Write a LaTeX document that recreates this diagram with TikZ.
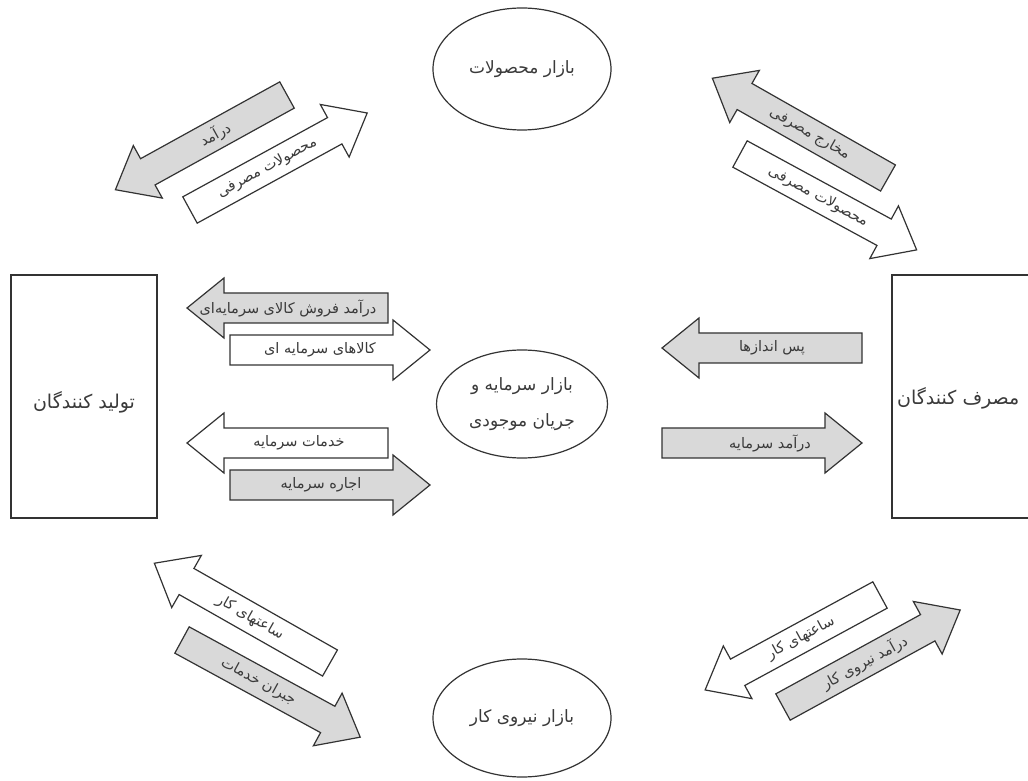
\documentclass[tikz,border=0pt]{standalone}
\usepackage{fontspec}
\usetikzlibrary{shapes.geometric}
\newfontfamily\fa[Script=Arabic]{DejaVu Sans}
\TeXXeTstate=1
\definecolor{lineC}{HTML}{333333}
\definecolor{textC}{HTML}{3A3A3A}
\definecolor{fillG}{HTML}{D9D9D9}
\tikzset{
  shapeline/.style={draw=lineC, line width=1.2pt, line join=miter},
  arrowlabel/.style={text=textC, inner sep=0pt, font=\fa\fontsize{14.5}{16}\selectfont},
  market/.style={shapeline, ellipse, inner sep=0pt, text=textC, align=center, font=\fa\fontsize{17}{36}\selectfont},
  boxlabel/.style={text=textC, inner sep=0pt, font=\fa\fontsize{19}{22}\selectfont}
}
% #1 name, #2 tail, #3 angle, #4 length, #5 fill, #6 text angle, #7 label pos, #8 text
\newcommand{\BArrow}[8]{%
  \begin{scope}[shift={#2}, rotate=#3]
    \draw[shapeline, fill=#5] (0,-15) -- ({#4-37},-15) -- ({#4-37},-30) -- (#4,0)
      -- ({#4-37},30) -- ({#4-37},15) -- (0,15) -- cycle;
    \node[arrowlabel, rotate=#6] (#1) at (#7,0) {#8};
  \end{scope}}
\begin{document}
\begin{tikzpicture}[x=1pt,y=1pt]
\useasboundingbox (0,0) rectangle (1028,780);
\fill[white] (0,0) rectangle (1028,780);
% boxes
\draw[shapeline] (11,262) rectangle (157,505);
\node[boxlabel] (prod) at (84,378) {\beginR تولید کنندگان\endR};
\draw[shapeline] (892,262) rectangle (1060,505);
\node[boxlabel, anchor=west] (cons) at (897,382) {\beginR مصرف کنندگان\endR};
% markets
\node[market, minimum width=178pt, minimum height=122pt] (pm) at (522,711) {\beginR بازار محصولات\endR};
\node[market, minimum width=171pt, minimum height=108pt] (cm) at (522,376) {\beginR بازار سرمایه و\endR\\\beginR جریان موجودی\endR};
\node[market, minimum width=178pt, minimum height=118pt] (lm) at (522,62) {\beginR بازار نیروی کار\endR};
% diagonal arrows
\BArrow{a1}{(287,685)}{208.9}{196}{fillG}{28.9}{82}{\beginR درآمد\endR}
\BArrow{a2}{(190,570)}{28.7}{202}{white}{28.7}{88}{\beginR محصولات مصرفی\endR}
\BArrow{a3}{(888,602)}{150.4}{202}{fillG}{-29.6}{90}{\beginR مخارج مصرفی\endR}
\BArrow{a4}{(740,626)}{-28.5}{201}{white}{-28.5}{89}{\beginR محصولات مصرفی\endR}
\BArrow{a5}{(330,117)}{150.4}{202}{white}{-29.6}{92}{\beginR ساعتهای کار\endR}
\BArrow{a6}{(182,140)}{-28.6}{203}{fillG}{-28.6}{87}{\beginR جبران خدمات\endR}
\BArrow{a7}{(880,185)}{208.5}{199}{white}{28.5}{90}{\beginR ساعتهای کار\endR}
\BArrow{a8}{(783,73)}{28.7}{202}{fillG}{28.7}{93}{\beginR درآمد نیروی کار\endR}
% horizontal arrows
\BArrow{h1}{(388,472)}{180}{201}{fillG}{0}{100}{\beginR درآمد فروش کالای سرمایه‌ای\endR}
\BArrow{h2}{(230,430)}{0}{200}{white}{0}{90}{\beginR کالاهای سرمایه ای\endR}
\BArrow{h3}{(388,337)}{180}{201}{white}{0}{89}{\beginR خدمات سرمایه\endR}
\BArrow{h4}{(230,295)}{0}{200}{fillG}{0}{91}{\beginR اجاره سرمایه\endR}
\BArrow{h5}{(862,432)}{180}{200}{fillG}{0}{90}{\beginR پس اندازها\endR}
\BArrow{h6}{(662,337)}{0}{200}{fillG}{0}{108}{\beginR درآمد سرمایه\endR}
\end{tikzpicture}
\end{document}
